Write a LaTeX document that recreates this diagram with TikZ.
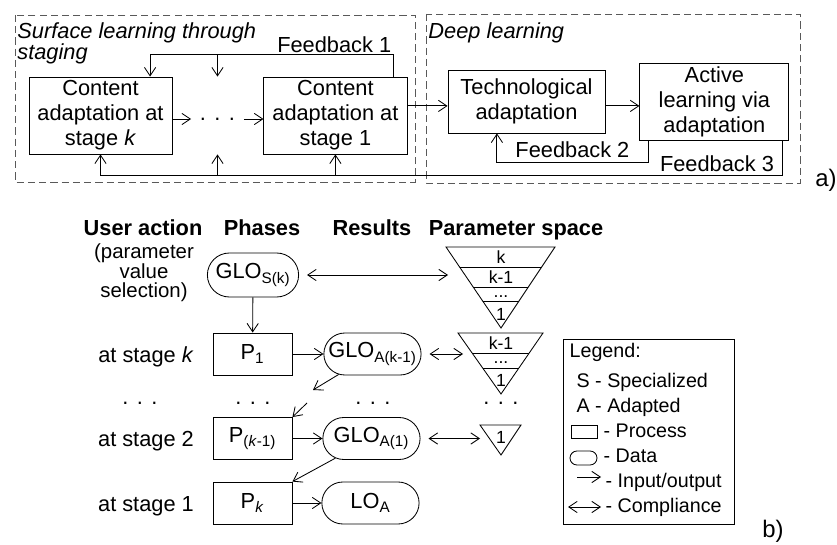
\documentclass[tikz,border=0pt]{standalone}
\usepackage{fontspec}
\setmainfont{Liberation Sans}
\usetikzlibrary{arrows.meta}
\usetikzlibrary{positioning}
\usetikzlibrary{shapes.misc}
\newcommand\subs[1]{\textsubscript{#1}}
\newcommand\threedots{.\hspace{6pt}.\hspace{6pt}.}

\begin{document}
\begin{tikzpicture}[
x=0.025cm, y=-0.025cm,
line width=0.6pt,
>={Straight Barb[length=6pt,width=8pt]},
font=\fontsize{15.5}{17.7}\selectfont,
procbox/.style={
  draw,
  rectangle,
  align=center,
  inner sep=1pt},
stagebox/.style={procbox, minimum width=3.575cm, minimum height=1.925cm},
phasebox/.style={procbox, minimum width=1.975cm, minimum height=1.05cm},
databox/.style={
  draw,
  rounded rectangle,
  minimum width=2.5cm,
  minimum height=1.05cm,
  inner sep=1pt},
region/.style={draw=black!65, dash pattern=on 5pt off 3pt},
regiontitle/.style={anchor=north west, align=left, inner sep=0pt,
  font=\fontsize{15.5}{13}\selectfont\itshape},
head/.style={anchor=base, font=\fontsize{15.5}{17}\selectfont\bfseries},
dotsnode/.style={inner xsep=6pt, inner ysep=0pt},
trilabel/.style={inner sep=0pt, font=\fontsize{12.5}{13}\selectfont},
legtext/.style={anchor=base west, inner xsep=3pt, inner ysep=0pt,
  font=\fontsize{14}{14}\selectfont},
panel/.style={anchor=base west, inner sep=0pt, font=\fontsize{17}{17}\selectfont},
compliance/.style={<->, shorten <=0.2cm}
]
\useasboundingbox (0,0) rectangle (837,545);

% a) learning regions
\draw[region] (15,15) rectangle (415,182);
\draw[region] (426,14) rectangle (800,183);
\node[regiontitle] (tSurface) at (17,22) {Surface learning through\\staging};
\node[regiontitle] (tDeep) at (428,22) {Deep learning};

\node[stagebox] (ck) at (100.5,115.5) {Content\\adaptation at\\stage \textit{k}};
\node[stagebox, right=2.275cm of ck] (c1) {Content\\adaptation at\\stage 1};
\node[dotsnode] (dotsa) at (217.5,119) {\threedots};
\node[procbox, minimum width=3.925cm, minimum height=1.575cm] (tech) at (526.5,101.5) {Technological\\adaptation};
\node[procbox, minimum width=3.725cm, minimum height=1.925cm, right=0.85cm of tech] (act) {Active\\learning via\\adaptation};
\node[panel] (lblA) at (815,186) {a)};

\draw[->] (ck.east |- dotsa) -- (dotsa);
\draw[->] (dotsa) -- (dotsa -| c1.west);
\draw[->] ([yshift=-0.11cm]c1.east |- tech.west) -- ([yshift=-0.11cm]tech.west);
\draw[->] ([yshift=-0.11cm]tech.east) -- ([yshift=-0.11cm]act.west);

% feedback loops
\draw[->] ([xshift=1.44cm]c1.north) -- ++(0,-22) coordinate (fb1)
  node[above left, inner sep=1pt] {Feedback 1} -| ([xshift=1.24cm]ck.north);
\draw[->] (fb1 -| dotsa) -- (dotsa |- ck.north);
\draw[->] ([xshift=-1.66cm]act.south) -- ++(0,22)
  -| node[pos=0.25, above, inner ysep=3pt] {Feedback 2} ([xshift=-0.74cm]tech.south);
\draw[->] ([xshift=1.71cm]act.south) -- ++(0,35) coordinate (fb3)
  node[above left, inner xsep=6pt, inner ysep=2pt] {Feedback 3} -| (ck.south);
\draw[->] (fb3 -| c1.south) -- (c1.south);
\draw[->] (fb3 -| dotsa) -- (dotsa |- ck.south);

% b) columns
\node[head] (hUser) at (143,235) {User action};
\node[head] (hPhases) at (262,235) {Phases};
\node[head] (hResults) at (372,235) {Results};
\node[head] (hSpace) at (516,235) {Parameter space};
\node[align=center, inner sep=0pt, font=\fontsize{14.5}{13.8}\selectfont] (selection) at (144,273) {(parameter\\value\\selection)};

\node[databox, minimum width=2.35cm, minimum height=1.1cm] (glos) at (253,275) {GLO\subs{S(k)}};
\node[phasebox] (p1) at (252.5,354) {P\subs{1}};
\node[databox, right=0.775cm of p1] (gloak) {GLO\subs{A(k-1)}};
\node[phasebox] (pk1) at (252.5,438.5) {P\subs{(\textit{k}-1)}};
\node[databox, right=0.75cm of pk1] (gloa1) {GLO\subs{A(1)}};
\node[phasebox] (pk) at (252.5,503) {P\subs{\textit{k}}};
\node[databox, right=0.725cm of pk] (loa) {LO\subs{A}};

\node[anchor=base] (sk) at (146,362) {at stage \textit{k}};
\node[anchor=base] (s2) at (146,446.5) {at stage 2};
\node[anchor=base] (s1) at (146,511) {at stage 1};
\foreach \xx/\nm in {140/dotsu,253/dotsp,373/dotsr,501/dotss}
  \node[dotsnode] (\nm) at (\xx,403) {\threedots};

% parameter space
\draw (446,247) -- (555,247) -- (501,328) -- cycle;
\draw (458,333) -- (543,333) -- (501,394) -- cycle;
\draw (480,425) -- (521,425) -- (501,455) -- cycle;
\begin{scope}
\clip (446,247) -- (555,247) -- (501,328) -- cycle;
\foreach \yy in {267,287,301} \draw (440,\yy) -- (560,\yy);
\end{scope}
\begin{scope}
\clip (458,333) -- (543,333) -- (501,394) -- cycle;
\foreach \yy in {353,368} \draw (440,\yy) -- (560,\yy);
\end{scope}
\node[trilabel] (ta) at (501,257) {k};
\node[trilabel] (tb) at (501,277) {k-1};
\node[trilabel] (tc) at (501,297) {...};
\node[trilabel] (td) at (501,314) {1};
\node[trilabel] (te) at (501,343) {k-1};
\node[trilabel] (tf) at (501,363) {...};
\node[trilabel] (tg) at (501,380) {1};
\node[trilabel] (th) at (501,437) {1};
\coordinate (tri1) at (448,275);
\coordinate (tri2) at (463,354);
\coordinate (tri3) at (480,438.5);
\coordinate (d1) at (313,390);
\coordinate (d2) at (307,403);

\draw[->] (glos) -- (p1);
\draw[compliance] (glos.east) -- (tri1);
\draw[->] (p1) -- (gloak);
\draw[compliance] (gloak.east) -- (tri2);
\draw[->] (gloak) -- (d1);
\draw[->] (d2) -- (pk1.north east);
\draw[->] (pk1) -- (gloa1);
\draw[compliance] (gloa1.east) -- (tri3);
\draw[->] (gloa1) -- (pk.north east);
\draw[->] (pk) -- (loa);

% legend
\node[draw, minimum width=4.275cm, minimum height=4.625cm, inner sep=0pt] (legend) at (648.5,431.5) {};
\node[legtext] (lgTitle) at (565,357) {Legend:};
\node[legtext] (lgS) at (572,387) {S - Specialized};
\node[legtext] (lgA) at (572,412) {A - Adapted};
\node[draw, minimum width=0.65cm, minimum height=0.325cm, inner sep=0pt] (lgProcBox) at (584,431.5) {};
\node[legtext] (lgProc) at (599,437) {- Process};
\node[draw, rounded rectangle, minimum width=0.675cm, minimum height=0.35cm, inner sep=0pt] (lgDataBox) at (583.5,458) {};
\node[legtext] (lgData) at (599,462) {- Data};
\node[legtext] (lgIO) at (601,487) {- Input/output};
\node[legtext] (lgComp) at (601,512) {- Compliance};
\coordinate (lgIOstart) at (577,477);
\coordinate (lgCompstart) at (568,507);
\draw[->] (lgIOstart) -- (lgIOstart -| lgIO.west);
\draw[<->] (lgCompstart) -- (lgCompstart -| lgComp.west);
\node[panel] (lblB) at (762,537) {b)};
\end{tikzpicture}
\end{document}
